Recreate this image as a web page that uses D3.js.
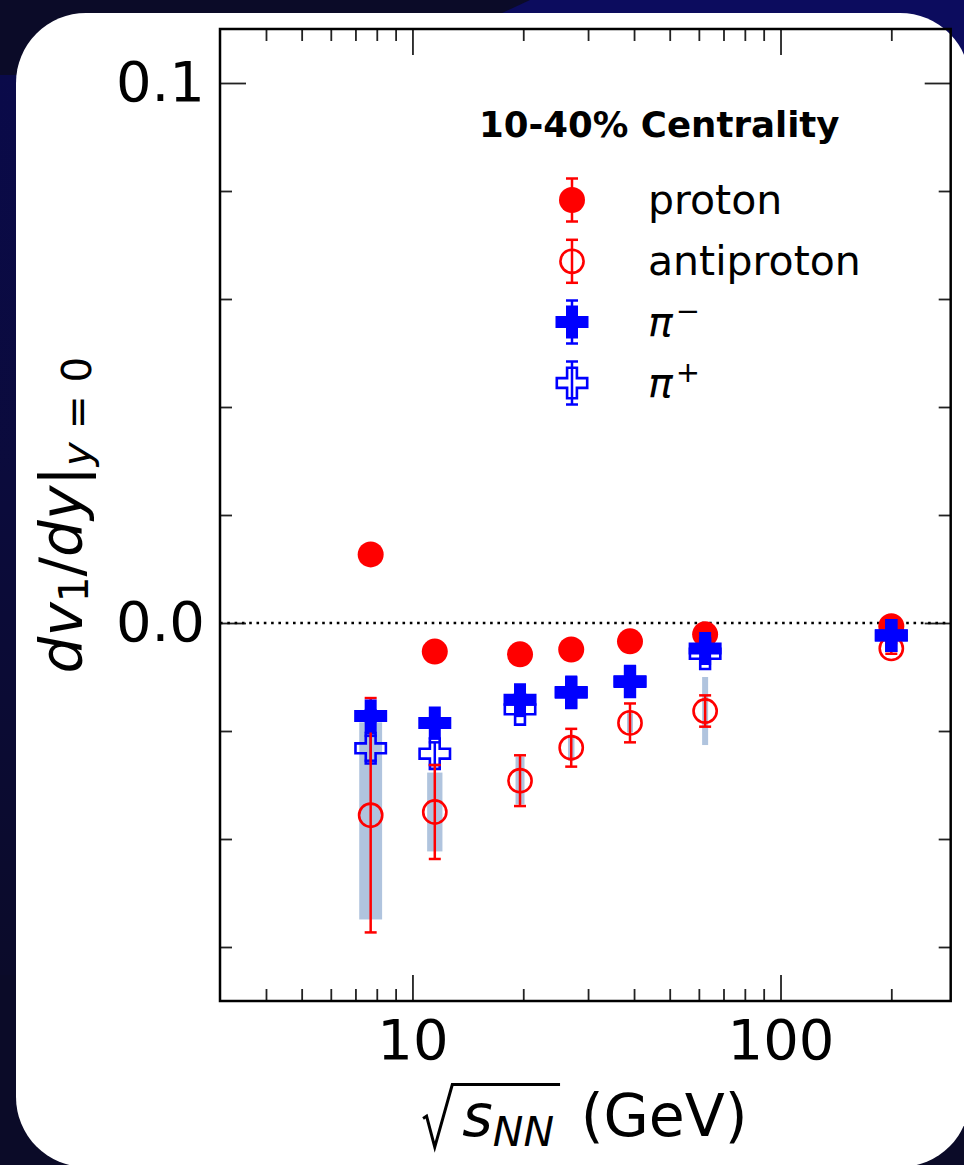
<!DOCTYPE html>
<html><head><meta charset="utf-8">
<script src="https://cdn.jsdelivr.net/npm/d3@7"></script>
<style>html,body{margin:0;padding:0;background:#0b0b2b;} svg{display:block;}</style>
</head><body><svg id="c" width="964" height="1165"></svg>
<script>
// ---------------- data ----------------
const energies = [7.7, 11.5, 19.6, 27, 39, 62.4, 200];
const protonV = [0.0127, -0.0053, -0.0058, -0.0049, -0.0034, -0.0021, -0.0006];
const protonErr = [0.0008, 0.0006, 0.0005, 0.0004, 0.0004, 0.0005, 0.0003];
const antiprotonV = [-0.0356, -0.0350, -0.0292, -0.0231, -0.0185, -0.0163, -0.0047];
const antiprotonErr = [0.0217, 0.0087, 0.0047, 0.0035, 0.0036, 0.0029, 0.0010];
const antiprotonSysUp = [0.0172, 0.0073, 0.0044, 0.0024, 0.0018, 0.0063, 0];
const antiprotonSysDown = [0.0193, 0.0073, 0.0044, 0.0024, 0.0018, 0.0063, 0];
const piMinusV = [-0.0172, -0.0185, -0.0142, -0.0128, -0.0108, -0.0047, -0.0023];
const piMinusErr = [0.0010, 0.0008, 0.0006, 0.0005, 0.0005, 0.0006, 0.0004];
const piPlusV = [-0.0232, -0.0242, -0.0160, -0.0129, -0.0109, -0.0057, -0.0023];
const piPlusErr = [0.0023, 0.0021, 0.0012, 0.0008, 0.0007, 0.0009, 0.0005];
const yTickMajor = [0.0, 0.1];
const yTickMinor = [-0.06, -0.04, -0.02, 0.02, 0.04, 0.06, 0.08];
const xTickMajor = [10, 100];
const xTickMinor = [4, 5, 6, 7, 8, 9, 20, 30, 40, 50, 60, 70, 80, 90, 200];
const legendTitle = "10-40% Centrality";
const legendLabels = ["proton", "antiproton", "π", "π"];
const legendSups = ["", "", "−", "+"];
const xDomain = [3, 290];
const yDomain = [-0.07, 0.11];

// ---------------- layout ----------------
const FONT = "DejaVu Sans";
const L = 220, R = 950.7, T = 29, B = 1001;
const RED = "#ff0000", BLUE = "#0000ff", BAND = "#b0c4de";
const svg = d3.select("#c");

// background
const defs = svg.append("defs");
const lg = defs.append("linearGradient").attr("id", "lstrip").attr("x1", 0).attr("y1", 0).attr("x2", 0).attr("y2", 1);
lg.append("stop").attr("offset", "0%").attr("stop-color", "#0a0a4a");
lg.append("stop").attr("offset", "45%").attr("stop-color", "#0b0b3c");
lg.append("stop").attr("offset", "100%").attr("stop-color", "#0b0b2a");
svg.append("rect").attr("width", 964).attr("height", 1165).attr("fill", "#0b0b28");
svg.append("rect").attr("x", 0).attr("y", 75).attr("width", 20).attr("height", 900).attr("fill", "url(#lstrip)");
svg.append("polygon").attr("points", "500,14 530,0 964,0 964,140 940,60 900,14").attr("fill", "#0c0c5e");
svg.append("rect").attr("x", 16).attr("y", 13).attr("width", 954).attr("height", 1154).attr("rx", 70).attr("ry", 70).attr("fill", "#ffffff");

// scales
const x = d3.scaleLog().domain(xDomain).range([L, R]);
const y = d3.scaleLinear().domain(yDomain).range([B, T]);

// axes
function styleAxis(g, fs) {
  g.select(".domain").remove();
  g.selectAll(".tick line").attr("stroke", "#222").attr("stroke-width", 1.8);
  g.selectAll(".tick text").attr("fill", "#000").attr("font-family", FONT).attr("font-size", fs);
}
const MAJ = 26, MIN = 12;
svg.append("g").attr("transform", `translate(0,${B})`)
  .call(d3.axisBottom(x).tickValues(xTickMajor).tickSize(-MAJ).tickPadding(18).tickFormat(d3.format("d")))
  .call(g => styleAxis(g, 56));
svg.append("g").attr("transform", `translate(0,${B})`)
  .call(d3.axisBottom(x).tickValues(xTickMinor).tickSize(-MIN).tickFormat(""))
  .call(g => styleAxis(g, 0));
svg.append("g").attr("transform", `translate(0,${T})`)
  .call(d3.axisTop(x).tickValues(xTickMajor).tickSize(-MAJ).tickFormat(""))
  .call(g => styleAxis(g, 0));
svg.append("g").attr("transform", `translate(0,${T})`)
  .call(d3.axisTop(x).tickValues(xTickMinor).tickSize(-MIN).tickFormat(""))
  .call(g => styleAxis(g, 0));
svg.append("g").attr("transform", `translate(${L},0)`)
  .call(d3.axisLeft(y).tickValues(yTickMajor).tickSize(-MAJ).tickPadding(15).tickFormat(d3.format(".1f")))
  .call(g => styleAxis(g, 56));
svg.append("g").attr("transform", `translate(${L},0)`)
  .call(d3.axisLeft(y).tickValues(yTickMinor).tickSize(-MIN).tickFormat(""))
  .call(g => styleAxis(g, 0));
svg.append("g").attr("transform", `translate(${R},0)`)
  .call(d3.axisRight(y).tickValues(yTickMajor).tickSize(-MAJ).tickFormat(""))
  .call(g => styleAxis(g, 0));
svg.append("g").attr("transform", `translate(${R},0)`)
  .call(d3.axisRight(y).tickValues(yTickMinor).tickSize(-MIN).tickFormat(""))
  .call(g => styleAxis(g, 0));

// zero line
svg.append("line").attr("x1", L).attr("x2", R).attr("y1", y(0)).attr("y2", y(0))
  .attr("stroke", "#000").attr("stroke-width", 2.6).attr("stroke-dasharray", "2.6,4.7");

// marker helpers
function plusPath(h, a) {
  return `M${-a},${-h}L${a},${-h}L${a},${-a}L${h},${-a}L${h},${a}L${a},${a}L${a},${h}L${-a},${h}L${-a},${a}L${-h},${a}L${-h},${-a}L${-a},${-a}Z`;
}
const markers = {
  protonM: (g) => g.append("circle").attr("r", 13).attr("fill", RED),
  antiprotonM: (g) => g.append("circle").attr("r", 11.6).attr("fill", "none").attr("stroke", RED).attr("stroke-width", 2.6),
  piMinusM: (g) => g.append("path").attr("d", plusPath(16.5, 6)).attr("fill", BLUE),
  piPlusM: (g) => g.append("path").attr("d", plusPath(15.2, 4.9)).attr("fill", "none").attr("stroke", BLUE).attr("stroke-width", 2.6)
};
function errBar(g, cx, y1, y2, color) {
  g.append("line").attr("x1", cx).attr("x2", cx).attr("y1", y1).attr("y2", y2).attr("stroke", color).attr("stroke-width", 2.5);
  [y1, y2].forEach(yy => g.append("line").attr("x1", cx - 6).attr("x2", cx + 6).attr("y1", yy).attr("y2", yy).attr("stroke", color).attr("stroke-width", 2.5));
}
function drawSeries(vals, errs, color, mk) {
  const g = svg.append("g");
  energies.forEach((e, i) => {
    const cx = x(e);
    errBar(g, cx, y(vals[i] + errs[i]), y(vals[i] - errs[i]), color);
    const m = g.append("g").attr("transform", `translate(${cx},${y(vals[i])})`);
    mk(m);
  });
}

// systematic bands (antiproton)
const bandG = svg.append("g");
energies.forEach((e, i) => {
  const up = antiprotonSysUp[i], dn = antiprotonSysDown[i];
  if (up + dn <= 0) return;
  const x0 = x(e - 0.55), x1 = x(e + 0.55);
  const w = Math.max(6, x1 - x0);
  const cx = x(e);
  bandG.append("rect").attr("x", cx - w / 2).attr("width", w)
    .attr("y", y(antiprotonV[i] + up)).attr("height", y(antiprotonV[i] - dn) - y(antiprotonV[i] + up))
    .attr("fill", BAND);
});

drawSeries(protonV, protonErr, RED, markers.protonM);
drawSeries(piPlusV, piPlusErr, BLUE, markers.piPlusM);
drawSeries(antiprotonV, antiprotonErr, RED, markers.antiprotonM);
drawSeries(piMinusV, piMinusErr, BLUE, markers.piMinusM);

// frame
svg.append("rect").attr("x", L).attr("y", T).attr("width", R - L).attr("height", B - T)
  .attr("fill", "none").attr("stroke", "#000").attr("stroke-width", 2.5);

// legend
svg.append("text").attr("x", 479).attr("y", 137).attr("font-family", FONT).attr("font-weight", "bold")
  .attr("font-size", 35.6).attr("fill", "#000").text(legendTitle);
const legY = [200, 261.3, 322, 383];
const legColors = [RED, RED, BLUE, BLUE];
const legMarkers = [markers.protonM, markers.antiprotonM, markers.piMinusM, markers.piPlusM];
legendLabels.forEach((lab, i) => {
  const g = svg.append("g");
  errBar(g, 572, legY[i] - 21.5, legY[i] + 21.5, legColors[i]);
  legMarkers[i](g.append("g").attr("transform", `translate(572,${legY[i]})`));
  const t = svg.append("text").attr("x", 648).attr("y", legY[i] + 14).attr("font-family", FONT)
    .attr("font-size", 41).attr("fill", "#000");
  if (legendSups[i]) {
    t.append("tspan").attr("font-style", "italic").text(lab);
    t.append("tspan").attr("font-size", 29).attr("dx", 3).attr("dy", -15).text(legendSups[i]);
  } else {
    t.text(lab);
  }
});

// y label
(function () {
  const F = 58;
  const t = svg.append("text").attr("transform", `translate(82,${(T + B) / 2}) rotate(-90)`)
    .attr("text-anchor", "middle").attr("font-family", FONT).attr("font-size", F).attr("fill", "#000");
  t.append("tspan").attr("font-style", "italic").text("dv");
  t.append("tspan").attr("font-size", F * 0.7).attr("dy", 6).text("1");
  t.append("tspan").attr("dy", -6).text("/");
  t.append("tspan").attr("font-style", "italic").text("dy");
  t.append("tspan").text("|");
  t.append("tspan").attr("font-size", F * 0.7).attr("font-style", "italic").attr("dy", 9).text("y");
  t.append("tspan").attr("font-size", F * 0.7).text(" = 0");
})();

// x label
(function () {
  const F = 58.5, yb = 1136;
  const g = svg.append("g");
  const sT = g.append("text").attr("font-family", FONT).attr("font-size", F).attr("font-style", "italic").attr("y", yb).text("s");
  const nT = g.append("text").attr("font-family", FONT).attr("font-size", F * 0.7).attr("font-style", "italic").attr("y", yb + 10).text("NN");
  const rT = g.append("text").attr("font-family", FONT).attr("font-size", F).attr("y", yb).text("\u00a0(GeV)");
  const sW = sT.node().getComputedTextLength();
  const nW = nT.node().getComputedTextLength();
  const rW = rT.node().getComputedTextLength();
  const radW = 0.5 * F + 10;
  const total = radW + sW + nW + 8 + rW;
  const x0 = (L + R) / 2 - total / 2;
  sT.attr("x", x0 + radW);
  nT.attr("x", x0 + radW + sW);
  const barEnd = x0 + radW + sW + nW + 6;
  rT.attr("x", barEnd + 2);
  g.append("path")
    .attr("d", `M${x0},${yb - 0.30 * F}L${x0 + 0.06 * F},${yb - 0.34 * F}L${x0 + 0.2 * F},${yb + 0.19 * F}L${x0 + 0.5 * F},${yb - 0.88 * F}L${barEnd},${yb - 0.88 * F}`)
    .attr("fill", "none").attr("stroke", "#000").attr("stroke-width", 3).attr("stroke-linejoin", "miter");
})();
</script>
</body></html>
